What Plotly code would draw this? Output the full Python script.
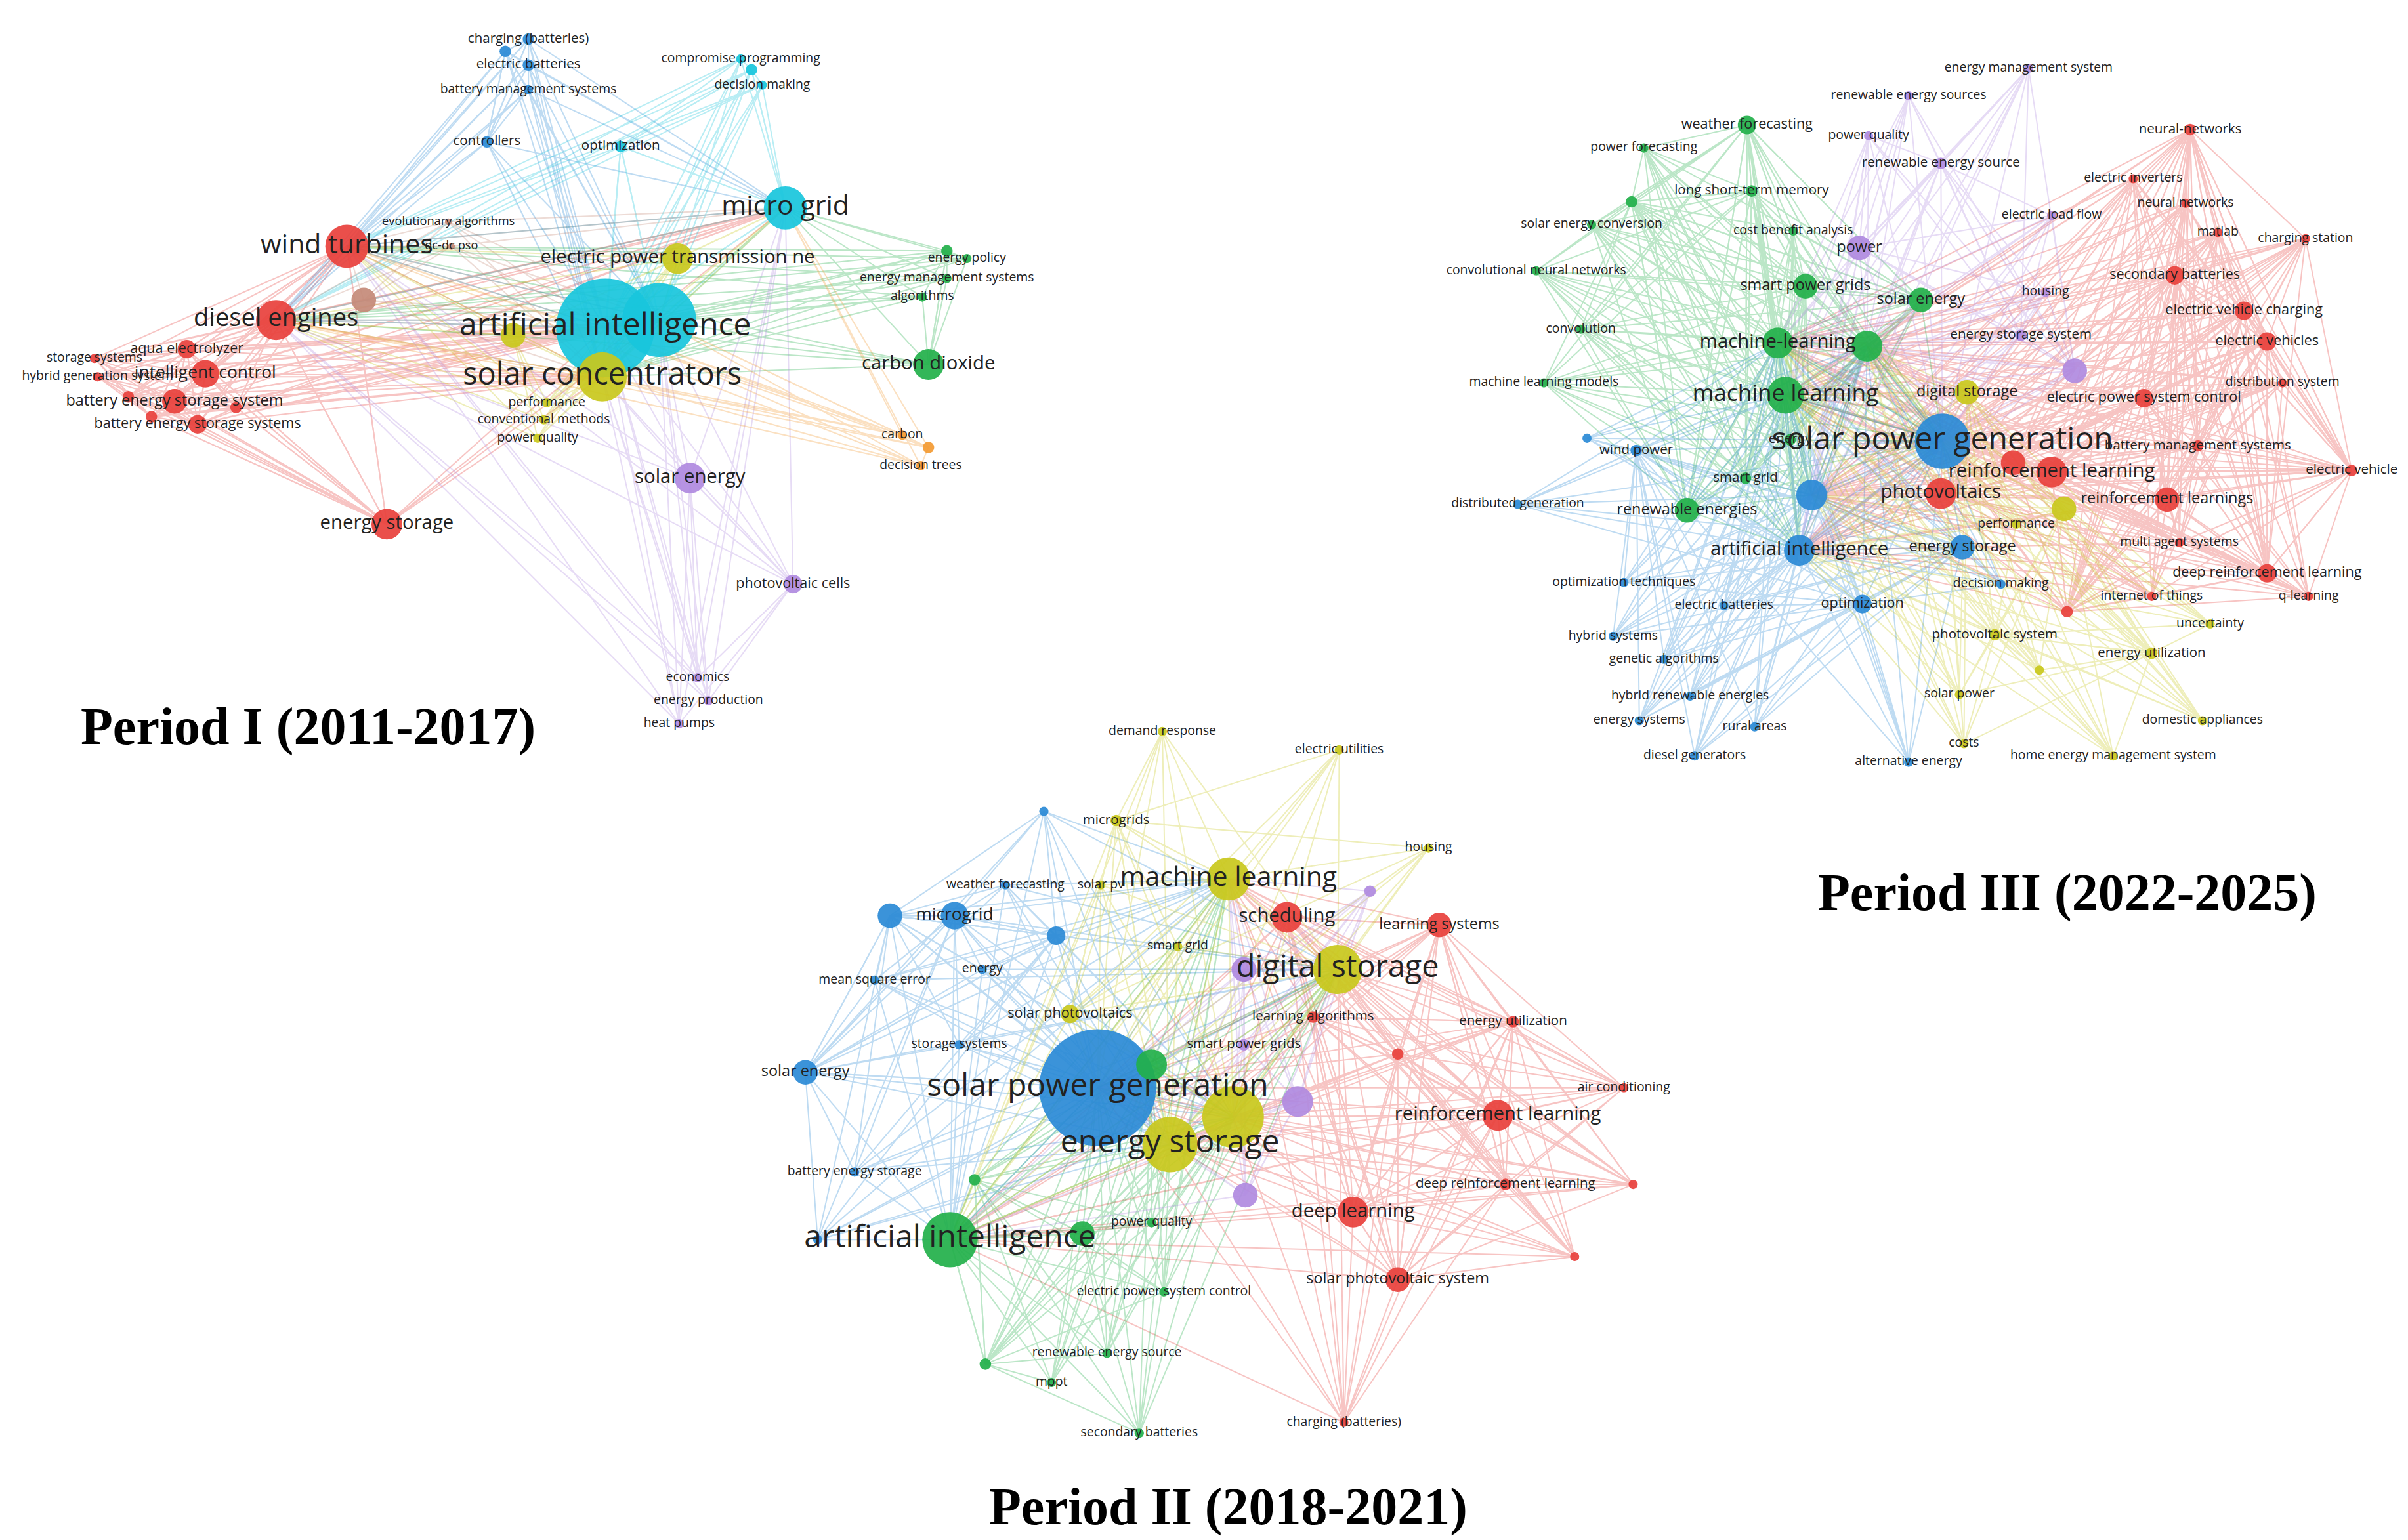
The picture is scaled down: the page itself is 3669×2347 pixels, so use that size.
import plotly.graph_objects as go

S = 3669 / 1565.0
COL = dict(r="#e8403c", g="#22b04a", b="#2a8ad6", c="#18c6dc", y="#c9c81c",
           p="#b08ae0", o="#f39a32", n="#c48a78")

# (label, x, y, size, color) in reference display coordinates
p1 = [
    ("wind turbines", 222, 157, 14, "r"), ("diesel engines", 176, 205, 13, "r"),
    ("aqua electrolyzer", 118, 224, 6, "r"), ("intelligent control", 130, 240, 9, "r"),
    ("battery energy storage system", 110, 258, 8, "r"), ("battery energy storage systems", 125, 273, 6, "r"),
    ("storage systems", 58, 230, 4, "r"), ("hybrid generation system", 60, 242, 4, "r"),
    ("energy storage", 248, 338, 10, "r"), ("", 80, 255, 5, "r"), ("", 95, 268, 5, "r"), ("", 150, 262, 5, "r"),
    ("evolutionary algorithms", 288, 141, 3, "n"), ("dc-dc pso", 290, 157, 3, "n"), ("", 233, 192, 8, "n"),
    ("artificial intelligence", 390, 210, 32, "c"), ("", 425, 205, 24, "c"), ("micro grid", 507, 132, 14, "c"),
    ("optimization", 400, 92, 5, "c"), ("compromise programming", 478, 35, 4, "c"), ("decision making", 492, 52, 4, "c"),
    ("", 485, 42, 5, "c"),
    ("controllers", 313, 89, 5, "b"), ("charging (batteries)", 340, 22, 5, "b"), ("electric batteries", 340, 39, 5, "b"),
    ("battery management systems", 340, 55, 4, "b"), ("", 325, 30, 5, "b"),
    ("solar concentrators", 388, 242, 16, "y"), ("electric power transmission ne", 437, 165, 10, "y"),
    ("", 330, 215, 8, "y"), ("performance", 352, 259, 4, "y"), ("conventional methods", 350, 270, 4, "y"),
    ("power quality", 346, 282, 4, "y"),
    ("energy policy", 625, 165, 4, "g"), ("energy management systems", 612, 178, 4, "g"), ("algorithms", 596, 190, 4, "g"),
    ("carbon dioxide", 600, 234, 10, "g"), ("", 612, 160, 5, "g"),
    ("carbon", 583, 280, 4, "o"), ("decision trees", 595, 300, 4, "o"), ("", 600, 288, 5, "o"),
    ("solar energy", 445, 308, 10, "p"), ("photovoltaic cells", 512, 377, 6, "p"),
    ("economics", 450, 438, 4, "p"), ("energy production", 457, 453, 4, "p"), ("heat pumps", 438, 468, 4, "p"),
]
p2 = [
    ("solar power generation", 710, 705, 38, "b"), ("microgrid", 617, 593, 9, "b"), ("solar energy", 520, 695, 8, "b"),
    ("mean square error", 565, 635, 4, "b"), ("battery energy storage", 552, 760, 4, "b"),
    ("weather forecasting", 650, 573, 4, "b"), ("energy", 635, 628, 4, "b"), ("storage systems", 620, 677, 4, "b"),
    ("", 683, 606, 6, "b"), ("", 575, 593, 8, "b"), ("", 528, 804, 4, "b"), ("", 675, 525, 4, "b"),
    ("machine learning", 795, 569, 14, "y"), ("energy storage", 757, 742, 18, "y"), ("digital storage", 866, 628, 16, "y"),
    ("", 798, 724, 20, "y"), ("demand response", 752, 473, 4, "y"), ("electric utilities", 867, 485, 4, "y"),
    ("housing", 925, 549, 4, "y"), ("microgrids", 722, 531, 5, "y"), ("smart grid", 762, 613, 4, "y"),
    ("solar photovoltaics", 692, 657, 6, "y"), ("solar pv", 712, 573, 4, "y"),
    ("artificial intelligence", 614, 804, 18, "g"), ("", 745, 690, 10, "g"), ("", 700, 800, 8, "g"),
    ("power quality", 745, 793, 4, "g"), ("electric power system control", 753, 838, 4, "g"),
    ("renewable energy source", 716, 878, 4, "g"), ("mppt", 680, 897, 4, "g"), ("secondary batteries", 737, 930, 4, "g"),
    ("", 637, 885, 5, "g"), ("", 630, 765, 5, "g"),
    ("scheduling", 833, 594, 10, "r"), ("learning systems", 932, 599, 8, "r"), ("reinforcement learning", 970, 723, 10, "r"),
    ("deep reinforcement learning", 975, 768, 5, "r"), ("deep learning", 876, 786, 10, "r"),
    ("solar photovoltaic system", 905, 830, 8, "r"), ("energy utilization", 980, 662, 5, "r"),
    ("air conditioning", 1052, 705, 4, "r"), ("learning algorithms", 850, 659, 5, "r"),
    ("charging (batteries)", 870, 923, 4, "r"), ("", 1020, 815, 4, "r"), ("", 1058, 768, 4, "r"), ("", 905, 683, 5, "r"),
    ("", 805, 628, 8, "p"), ("smart power grids", 805, 677, 5, "p"), ("", 840, 714, 10, "p"), ("", 806, 775, 8, "p"),
    ("", 887, 577, 5, "p"),
]
p3 = [
    ("solar power generation", 1259, 284, 18, "b"), ("artificial intelligence", 1166, 355, 10, "b"),
    ("energy storage", 1272, 353, 8, "b"), ("optimization", 1207, 390, 6, "b"), ("wind power", 1060, 290, 5, "b"),
    ("electric batteries", 1117, 391, 4, "b"), ("hybrid systems", 1045, 411, 4, "b"), ("genetic algorithms", 1078, 426, 4, "b"),
    ("hybrid renewable energies", 1095, 450, 4, "b"), ("energy systems", 1062, 466, 4, "b"), ("rural areas", 1137, 470, 4, "b"),
    ("diesel generators", 1098, 489, 4, "b"), ("alternative energy", 1237, 493, 4, "b"),
    ("distributed generation", 983, 325, 4, "b"), ("optimization techniques", 1052, 376, 4, "b"),
    ("decision making", 1297, 377, 4, "b"), ("", 1174, 319, 10, "b"), ("", 1028, 282, 4, "b"),
    ("weather forecasting", 1132, 78, 6, "g"), ("long short-term memory", 1135, 121, 5, "g"),
    ("smart power grids", 1170, 183, 8, "g"), ("machine-learning", 1152, 220, 10, "g"), ("machine learning", 1157, 254, 12, "g"),
    ("solar energy", 1245, 192, 8, "g"), ("energy", 1160, 283, 5, "g"), ("smart grid", 1131, 308, 5, "g"),
    ("renewable energies", 1093, 329, 8, "g"), ("power forecasting", 1065, 93, 4, "g"),
    ("solar energy conversion", 1031, 143, 4, "g"), ("convolutional neural networks", 995, 173, 4, "g"),
    ("convolution", 1024, 211, 4, "g"), ("machine learning models", 1000, 246, 4, "g"),
    ("cost benefit analysis", 1162, 147, 4, "g"), ("", 1210, 222, 10, "g"), ("", 1057, 128, 5, "g"),
    ("energy management system", 1315, 41, 4, "p"), ("renewable energy sources", 1237, 59, 4, "p"),
    ("power quality", 1211, 85, 4, "p"), ("renewable energy source", 1258, 103, 5, "p"),
    ("electric load flow", 1330, 137, 4, "p"), ("power", 1205, 158, 8, "p"), ("energy storage system", 1310, 215, 5, "p"),
    ("", 1345, 238, 8, "p"), ("housing", 1326, 187, 4, "p"),
    ("neural-networks", 1420, 81, 5, "r"), ("electric inverters", 1383, 113, 4, "r"), ("neural networks", 1417, 129, 4, "r"),
    ("matlab", 1438, 148, 4, "r"), ("charging station", 1495, 152, 4, "r"), ("secondary batteries", 1410, 176, 6, "r"),
    ("electric vehicle charging", 1455, 199, 6, "r"), ("electric vehicles", 1470, 219, 6, "r"),
    ("distribution system", 1480, 246, 4, "r"), ("electric power system control", 1390, 256, 6, "r"),
    ("battery management systems", 1425, 287, 5, "r"), ("reinforcement learning", 1330, 304, 10, "r"),
    ("reinforcement learnings", 1405, 322, 8, "r"), ("electric vehicle", 1525, 303, 5, "r"),
    ("deep reinforcement learning", 1470, 370, 6, "r"), ("q-learning", 1497, 385, 4, "r"),
    ("multi agent systems", 1413, 350, 4, "r"), ("internet of things", 1395, 385, 4, "r"), ("", 1305, 298, 8, "r"),
    ("photovoltaics", 1258, 318, 10, "r"), ("", 1340, 395, 5, "r"),
    ("digital storage", 1275, 252, 8, "y"), ("performance", 1307, 338, 4, "y"), ("photovoltaic system", 1293, 410, 5, "y"),
    ("uncertainty", 1433, 403, 4, "y"), ("energy utilization", 1395, 422, 5, "y"), ("solar power", 1270, 449, 4, "y"),
    ("domestic appliances", 1428, 466, 4, "y"), ("home energy management system", 1370, 489, 4, "y"),
    ("costs", 1273, 481, 4, "y"), ("", 1338, 328, 8, "y"), ("", 1322, 433, 4, "y"),
]
titles = [("Period I (2011-2017)", 197, 470), ("Period III (2022-2025)", 1340, 578), ("Period II (2018-2021)", 795, 978)]

fig = go.Figure()

def draw(net, hubs_n):
    hubs = sorted(range(len(net)), key=lambda i: -net[i][3])[:hubs_n]
    for ck in COL:
        xs, ys = [], []
        for i, n in enumerate(net):
            if n[4] != ck:
                continue
            targets = set(hubs) | {j for j, m in enumerate(net) if m[4] == ck and m[3] >= 5}
            for j in targets:
                if j != i:
                    xs += [n[1] * S, net[j][1] * S, None]
                    ys += [n[2] * S, net[j][2] * S, None]
        if xs:
            fig.add_trace(go.Scatter(x=xs, y=ys, mode="lines", hoverinfo="skip",
                                     line=dict(color=COL[ck], width=2), opacity=0.3))
    fig.add_trace(go.Scatter(
        x=[n[1] * S for n in net], y=[n[2] * S for n in net], mode="markers",
        marker=dict(size=[(n[3] * 2 if n[3] >= 6 else n[3] * 1.5) * S for n in net],
                    color=[COL[n[4]] for n in net], line=dict(width=0), opacity=0.92), hoverinfo="skip"))
    fig.add_trace(go.Scatter(
        x=[n[1] * S for n in net], y=[n[2] * S for n in net], mode="text",
        text=[n[0] for n in net],
        textfont=dict(family="Open Sans", color="#222",
                      size=[max(15, min(48, n[3] * 1.25 * S)) if n[3] >= 8 else 15 + n[3] * 1.1 for n in net]),
        hoverinfo="skip"))

for net in (p1, p2, p3):
    draw(net, 6)

for t, x, y in titles:
    fig.add_annotation(x=x * S, y=y * S, text="<b>%s</b>" % t, showarrow=False,
                       font=dict(family="Liberation Serif", size=80, color="black"))

fig.update_layout(width=3669, height=2347, margin=dict(l=0, r=0, t=0, b=0),
                  plot_bgcolor="white", paper_bgcolor="white", showlegend=False,
                  xaxis=dict(range=[0, 1565 * S], visible=False),
                  yaxis=dict(range=[1003 * S, 0], visible=False))
fig.write_html("out.html")
